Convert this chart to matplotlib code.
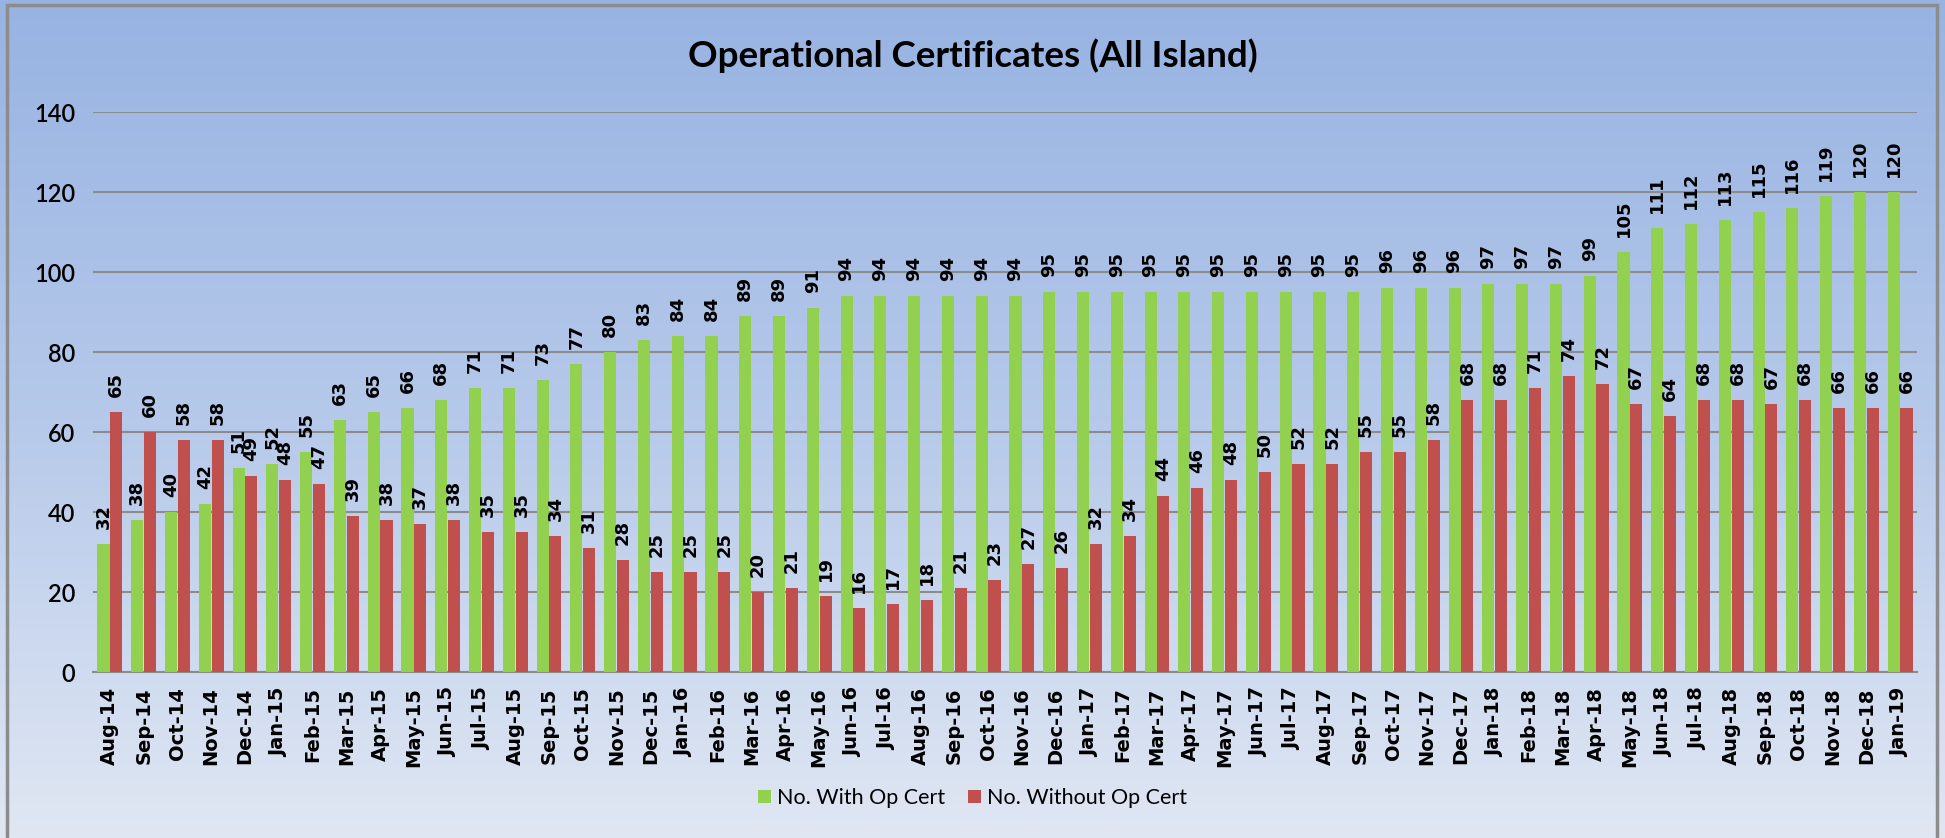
import matplotlib
matplotlib.use("Agg")
import matplotlib.pyplot as plt
import numpy as np
from matplotlib.patches import Rectangle, Patch
from matplotlib.colors import LinearSegmentedColormap

months = ["Aug-14", "Sep-14", "Oct-14", "Nov-14", "Dec-14",
          "Jan-15", "Feb-15", "Mar-15", "Apr-15", "May-15", "Jun-15", "Jul-15", "Aug-15", "Sep-15", "Oct-15", "Nov-15", "Dec-15",
          "Jan-16", "Feb-16", "Mar-16", "Apr-16", "May-16", "Jun-16", "Jul-16", "Aug-16", "Sep-16", "Oct-16", "Nov-16", "Dec-16",
          "Jan-17", "Feb-17", "Mar-17", "Apr-17", "May-17", "Jun-17", "Jul-17", "Aug-17", "Sep-17", "Oct-17", "Nov-17", "Dec-17",
          "Jan-18", "Feb-18", "Mar-18", "Apr-18", "May-18", "Jun-18", "Jul-18", "Aug-18", "Sep-18", "Oct-18", "Nov-18", "Dec-18",
          "Jan-19"]

with_cert = [32, 38, 40, 42, 51,
             52, 55, 63, 65, 66, 68, 71, 71, 73, 77, 80, 83,
             84, 84, 89, 89, 91, 94, 94, 94, 94, 94, 94, 95,
             95, 95, 95, 95, 95, 95, 95, 95, 95, 96, 96, 96,
             97, 97, 97, 99, 105, 111, 112, 113, 115, 116, 119, 120,
             120]

without_cert = [65, 60, 58, 58, 49,
                48, 47, 39, 38, 37, 38, 35, 35, 34, 31, 28, 25,
                25, 25, 20, 21, 19, 16, 17, 18, 21, 23, 27, 26,
                32, 34, 44, 46, 48, 50, 52, 52, 55, 55, 58, 68,
                68, 71, 74, 72, 67, 64, 68, 68, 67, 68, 66, 66,
                66]

series_names = ["No. With Op Cert", "No. Without Op Cert"]
title = "Operational Certificates (All Island)"

GREEN = "#92d050"
RED = "#c0504d"

W, H = 1945, 838
fig = plt.figure(figsize=(W / 100, H / 100), dpi=100)

# background gradient
bg = fig.add_axes([0, 0, 1, 1], zorder=-10)
cmap = LinearSegmentedColormap.from_list("bg", ["#97b3e2", "#b6c9ea", "#e0e7f3"])
grad = np.linspace(0, 1, 256).reshape(-1, 1)
bg.imshow(grad, aspect="auto", cmap=cmap, extent=[0, 1, 0, 1], origin="upper")
bg.set_xlim(0, 1)
bg.set_ylim(0, 1)
bg.axis("off")
bg.add_patch(Rectangle((7 / W, -0.01), (1937 - 7) / W, 1 - 5 / H + 0.01,
                       fill=False, edgecolor="#8c8c8c", linewidth=2.5,
                       transform=bg.transAxes))

left, right = 93 / W, 1917 / W
bottom, top = 1 - 672 / H, 1 - 112 / H
ax = fig.add_axes([left, bottom, right - left, top - bottom])
ax.set_facecolor("none")

x = np.arange(len(months))
bw = 0.36
off = 0.19
b1 = ax.bar(x - off, with_cert, bw, color=GREEN, zorder=3, label=series_names[0])
b2 = ax.bar(x + off, without_cert, bw, color=RED, zorder=3, label=series_names[1])

for bars, vals in ((b1, with_cert), (b2, without_cert)):
    for rect, v in zip(bars, vals):
        ax.annotate(str(v), (rect.get_x() + rect.get_width() / 2, rect.get_height()),
                    xytext=(0, 11), textcoords="offset points",
                    ha="center", va="bottom", rotation=90,
                    fontsize=13, fontweight="bold", color="black",
                    family="DejaVu Sans", zorder=5)

ax.set_xlim(-0.5, len(months) - 0.5)
ax.set_ylim(0, 140)
ax.set_yticks(np.arange(0, 141, 20))
ax.yaxis.grid(True, color="#8c8c8c", linewidth=1.5, zorder=0)
ax.set_axisbelow(True)
for s in ("top", "right", "left"):
    ax.spines[s].set_visible(False)
ax.spines["bottom"].set_color("#8c8c8c")
ax.spines["bottom"].set_linewidth(1.5)
ax.tick_params(axis="y", length=0, pad=13)
ax.tick_params(axis="x", length=0, pad=11)
ax.set_xticks(x)
ax.set_xticklabels(months, rotation=90, fontsize=14, fontweight="bold",
                   family="DejaVu Sans")
for lab in ax.get_yticklabels():
    lab.set_family(["Lato", "DejaVu Sans"])
    lab.set_fontsize(17)
    lab.set_fontweight("semibold")

fig.text(0.5, 1 - 56 / H, title, ha="center", va="center",
         fontsize=26.5, fontweight="bold", family=["Lato", "DejaVu Sans"])

handles = [Patch(facecolor=GREEN), Patch(facecolor=RED)]
leg = fig.legend(handles, series_names, loc="center", bbox_to_anchor=(0.5, 1 - 798 / H),
                 ncol=2, frameon=False, handlelength=0.6, handleheight=0.6,
                 columnspacing=1.1, handletextpad=0.25,
                 prop={"family": ["Lato", "DejaVu Sans"], "size": 15.5})

fig.savefig("out.png", dpi=100)
